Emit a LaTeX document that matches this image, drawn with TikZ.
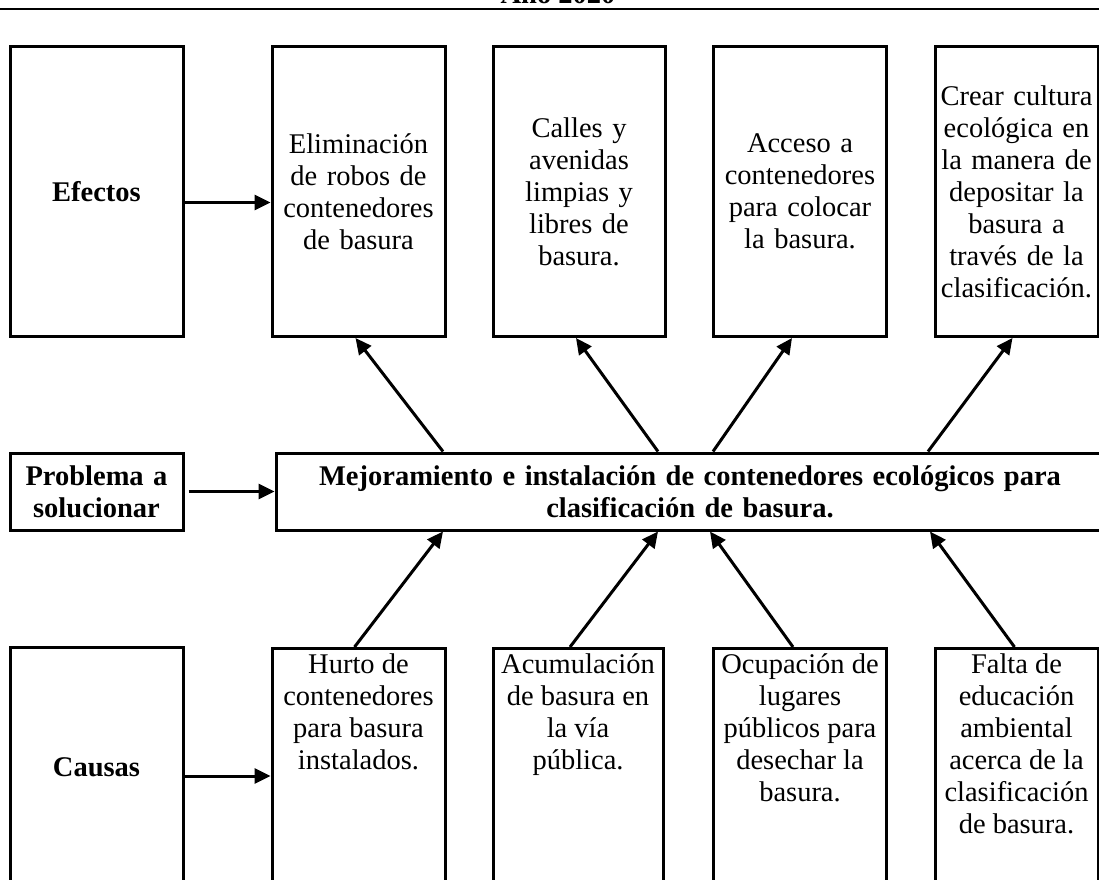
\documentclass[tikz,border=0pt]{standalone}
\usepackage{fontspec}
\setmainfont{Liberation Serif}
\usetikzlibrary{arrows.meta}

\begin{document}
\begin{tikzpicture}[x=1pt,y=-1pt,
  texto/.style={font=\fontsize{28.5}{32}\selectfont},
  negrita/.style={font=\fontsize{28.5}{32}\selectfont\bfseries},
  caja/.style={draw,line width=3pt,inner xsep=4pt,inner ysep=4pt,align=center,text width=165pt,minimum height=290pt},
  causa/.style={draw,line width=3pt,inner xsep=4pt,inner ysep=5pt,anchor=north},
  flecha/.style={line width=3pt,-{Triangle[length=16pt,width=15pt]}}]
  \useasboundingbox (0,0) rectangle (1099,879);
  \clip (0,0) rectangle (1099,879);

  % titulo cortado y linea superior
  \node[negrita,anchor=base] (anio) at (558,3) {Año 2020};
  \draw[line width=2.4pt] (0,9) -- (1099,9);

  % efectos
  \node[caja,negrita] (efectos) at (96.5,191.5) {Efectos};
  \node[caja,texto] (elim) at (358.5,191.5) {Eliminación\\de robos de\\contenedores\\de basura};
  \node[caja,texto,text width=164pt] (calles) at (579,191.5) {Calles y\\avenidas\\limpias y\\libres de\\basura.};
  \node[caja,texto] (acceso) at (800,191.5) {Acceso a\\contenedores\\para colocar\\la basura.};
  \node[caja,texto,text width=155pt] (crear) at (1016.5,191.5) {Crear cultura\\ecológica en\\la manera de\\depositar la\\basura a\\través de la\\clasificación.};

  % problema
  \node[caja,negrita,minimum height=77pt] (problema) at (96.5,491.5) {Problema a\\solucionar};
  \node[caja,negrita,text width=820pt,minimum height=77pt] (mejora) at (690,491.5)
    {Mejoramiento e instalación de contenedores ecológicos para\\clasificación de basura.};

  % causas
  \node[caja,negrita,minimum height=240pt] (causas) at (96.5,767) {Causas};
  \node[causa,texto] (hurto) at (358.5,647) {\parbox[t][255pt][t]{165pt}{\centering Hurto de\\contenedores\\para basura\\instalados.}};
  \node[causa,texto] (acum) at (578,647) {\parbox[t][255pt][t]{162pt}{\centering Acumulación\\de basura en\\la vía\\pública.}};
  \node[causa,texto] (ocup) at (800,647) {\parbox[t][255pt][t]{165pt}{\centering Ocupación de\\lugares\\públicos para\\desechar la\\basura.}};
  \node[causa,texto] (falta) at (1016.5,647) {\parbox[t][255pt][t]{155pt}{\centering Falta de\\educación\\ambiental\\acerca de la\\clasificación\\de basura.}};

  % flechas horizontales
  \coordinate (e1) at ([yshift=-11pt]efectos.east);
  \coordinate (c1) at ([yshift=-9pt]causas.east);
  \draw[flecha] (e1) -- (e1 -| elim.west);
  \draw[flecha,shorten <=4pt] (problema.east) -- (mejora.west);
  \draw[flecha] (c1) -- (c1 -| hurto.west);

  % flechas hacia los efectos
  \draw[flecha] (443,0 |- mejora.north) -- ([xshift=-3pt]elim.south);
  \draw[flecha] (658,0 |- mejora.north) -- ([xshift=-3pt]calles.south);
  \draw[flecha] (713,0 |- mejora.north) -- ([xshift=-8pt]acceso.south);
  \draw[flecha] (928,0 |- mejora.north) -- ([xshift=-4pt]crear.south);

  % flechas desde las causas
  \draw[flecha] ([xshift=-4pt]hurto.north) -- (443,0 |- mejora.south);
  \draw[flecha] ([xshift=-8pt]acum.north) -- (658,0 |- mejora.south);
  \draw[flecha] ([xshift=-7pt]ocup.north) -- (710,0 |- mejora.south);
  \draw[flecha] ([xshift=-2pt]falta.north) -- (930,0 |- mejora.south);
\end{tikzpicture}
\end{document}
